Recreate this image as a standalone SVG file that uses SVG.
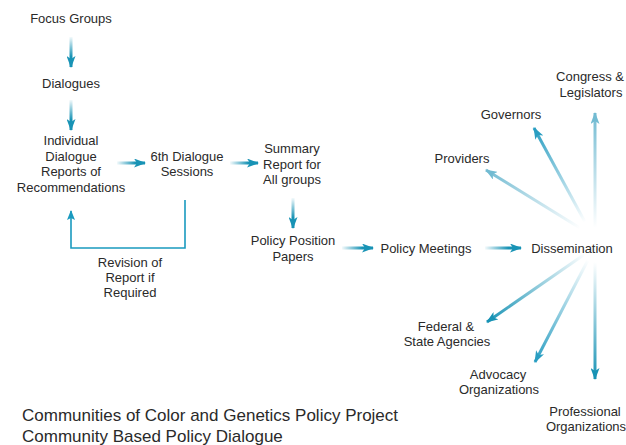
<svg xmlns="http://www.w3.org/2000/svg" width="626" height="445" viewBox="0 0 626 445">
<style>
text{font-family:"Liberation Sans",Arial,sans-serif;font-size:13px;fill:#2a2a2a;text-anchor:middle}
.title{font-size:17px;text-anchor:start}
.a{stroke-width:3;fill:none}
.b{stroke:#1a9abf;stroke-width:1.6;fill:none}
</style>
<defs>
<marker id="hd" markerUnits="userSpaceOnUse" markerWidth="12" markerHeight="9" refX="11" refY="4.5" orient="auto" viewBox="0 0 12 9"><path d="M0,0 L12,4.5 L0,9 L3,4.5 z" fill="#1893b5"/></marker>
<marker id="hm" markerUnits="userSpaceOnUse" markerWidth="12" markerHeight="9" refX="11" refY="4.5" orient="auto" viewBox="0 0 12 9"><path d="M0,0 L12,4.5 L0,9 L3,4.5 z" fill="#2a9ec2"/></marker>
<marker id="hl" markerUnits="userSpaceOnUse" markerWidth="12" markerHeight="9" refX="11" refY="4.5" orient="auto" viewBox="0 0 12 9"><path d="M0,0 L12,4.5 L0,9 L3,4.5 z" fill="#72bbd2"/></marker>
<marker id="hb" markerUnits="userSpaceOnUse" markerWidth="10" markerHeight="8" refX="9" refY="4" orient="auto" viewBox="0 0 10 8"><path d="M0,0 L10,4 L0,8 L2,4 z" fill="#1a9abf"/></marker>
<linearGradient id="g1" gradientUnits="userSpaceOnUse" x1="71" y1="37" x2="71" y2="67"><stop offset="0" stop-color="#1893b5" stop-opacity="0.05"/><stop offset="0.65" stop-color="#1893b5"/></linearGradient>
<linearGradient id="g2" gradientUnits="userSpaceOnUse" x1="71" y1="100" x2="71" y2="130"><stop offset="0" stop-color="#1893b5" stop-opacity="0.05"/><stop offset="0.65" stop-color="#1893b5"/></linearGradient>
<linearGradient id="g3" gradientUnits="userSpaceOnUse" x1="117" y1="163" x2="145" y2="163"><stop offset="0" stop-color="#1893b5" stop-opacity="0.05"/><stop offset="0.65" stop-color="#1893b5"/></linearGradient>
<linearGradient id="g4" gradientUnits="userSpaceOnUse" x1="230" y1="163" x2="258" y2="163"><stop offset="0" stop-color="#1893b5" stop-opacity="0.05"/><stop offset="0.65" stop-color="#1893b5"/></linearGradient>
<linearGradient id="g5" gradientUnits="userSpaceOnUse" x1="293" y1="198" x2="293" y2="228"><stop offset="0" stop-color="#1893b5" stop-opacity="0.05"/><stop offset="0.65" stop-color="#1893b5"/></linearGradient>
<linearGradient id="g6" gradientUnits="userSpaceOnUse" x1="342" y1="248" x2="373" y2="248"><stop offset="0" stop-color="#1893b5" stop-opacity="0.05"/><stop offset="0.65" stop-color="#1893b5"/></linearGradient>
<linearGradient id="g7" gradientUnits="userSpaceOnUse" x1="485" y1="248" x2="521" y2="248"><stop offset="0" stop-color="#1893b5" stop-opacity="0.05"/><stop offset="0.65" stop-color="#1893b5"/></linearGradient>
<linearGradient id="r1" gradientUnits="userSpaceOnUse" x1="595" y1="228" x2="595" y2="113"><stop offset="0" stop-color="#72bbd2" stop-opacity="0"/><stop offset="1" stop-color="#72bbd2"/></linearGradient>
<linearGradient id="r2" gradientUnits="userSpaceOnUse" x1="585" y1="222" x2="534" y2="128"><stop offset="0" stop-color="#2a9ec2" stop-opacity="0"/><stop offset="1" stop-color="#2a9ec2"/></linearGradient>
<linearGradient id="r3" gradientUnits="userSpaceOnUse" x1="580" y1="228" x2="486" y2="170"><stop offset="0" stop-color="#72bbd2" stop-opacity="0"/><stop offset="1" stop-color="#72bbd2"/></linearGradient>
<linearGradient id="r4" gradientUnits="userSpaceOnUse" x1="585" y1="254" x2="487" y2="322"><stop offset="0" stop-color="#1893b5" stop-opacity="0"/><stop offset="1" stop-color="#1893b5"/></linearGradient>
<linearGradient id="r5" gradientUnits="userSpaceOnUse" x1="588" y1="260" x2="535" y2="362"><stop offset="0" stop-color="#2a9ec2" stop-opacity="0"/><stop offset="1" stop-color="#2a9ec2"/></linearGradient>
<linearGradient id="r6" gradientUnits="userSpaceOnUse" x1="595" y1="262" x2="595" y2="379"><stop offset="0" stop-color="#1893b5" stop-opacity="0"/><stop offset="1" stop-color="#1893b5"/></linearGradient>
</defs>
<g id="connectors">
<line class="a" x1="71" y1="37" x2="71" y2="67" stroke="url(#g1)" marker-end="url(#hd)"/>
<line class="a" x1="71" y1="100" x2="71" y2="130" stroke="url(#g2)" marker-end="url(#hd)"/>
<line class="a" x1="117" y1="163" x2="145" y2="163" stroke="url(#g3)" marker-end="url(#hd)"/>
<line class="a" x1="230" y1="163" x2="258" y2="163" stroke="url(#g4)" marker-end="url(#hd)"/>
<line class="a" x1="293" y1="198" x2="293" y2="228" stroke="url(#g5)" marker-end="url(#hd)"/>
<line class="a" x1="342" y1="248" x2="373" y2="248" stroke="url(#g6)" marker-end="url(#hd)"/>
<line class="a" x1="485" y1="248" x2="521" y2="248" stroke="url(#g7)" marker-end="url(#hd)"/>
<path class="b" d="M185,200 V248 H71 V211" marker-end="url(#hb)"/>
<line class="a" x1="595" y1="228" x2="595" y2="113" stroke="url(#r1)" marker-end="url(#hl)"/>
<line class="a" x1="585" y1="222" x2="534" y2="128" stroke="url(#r2)" marker-end="url(#hm)"/>
<line class="a" x1="580" y1="228" x2="486" y2="170" stroke="url(#r3)" marker-end="url(#hl)"/>
<line class="a" x1="585" y1="254" x2="487" y2="322" stroke="url(#r4)" marker-end="url(#hd)"/>
<line class="a" x1="588" y1="260" x2="535" y2="362" stroke="url(#r5)" marker-end="url(#hm)"/>
<line class="a" x1="595" y1="262" x2="595" y2="379" stroke="url(#r6)" marker-end="url(#hd)"/>
</g>
<g id="focus-groups"><text x="71" y="23">Focus Groups</text></g>
<g id="dialogues"><text x="71" y="88">Dialogues</text></g>
<g id="individual-reports"><text x="71" y="145">Individual</text><text x="71" y="160.5">Dialogue</text><text x="71" y="176">Reports of</text><text x="71" y="191.5">Recommendations</text></g>
<g id="sixth-dialogue"><text x="187" y="160.5">6th Dialogue</text><text x="187" y="176">Sessions</text></g>
<g id="summary-report"><text x="292" y="153">Summary</text><text x="292" y="168.5">Report for</text><text x="292" y="184">All groups</text></g>
<g id="policy-position"><text x="293" y="245">Policy Position</text><text x="293" y="260.5">Papers</text></g>
<g id="revision"><text x="130" y="267">Revision of</text><text x="130" y="282">Report if</text><text x="130" y="297">Required</text></g>
<g id="policy-meetings"><text x="426" y="252.5">Policy Meetings</text></g>
<g id="dissemination"><text x="572" y="252.5">Dissemination</text></g>
<g id="congress"><text x="590" y="81">Congress &amp;</text><text x="591" y="96.5">Legislators</text></g>
<g id="governors"><text x="511" y="118.5">Governors</text></g>
<g id="providers"><text x="462" y="162.5">Providers</text></g>
<g id="federal"><text x="446" y="330.5">Federal &amp;</text><text x="447" y="345.5">State Agencies</text></g>
<g id="advocacy"><text x="498" y="378.5">Advocacy</text><text x="499" y="393.5">Organizations</text></g>
<g id="professional"><text x="585" y="415.5">Professional</text><text x="586" y="430.5">Organizations</text></g>
<g id="title"><text class="title" x="22" y="421">Communities of Color and Genetics Policy Project</text><text class="title" x="22" y="442">Community Based Policy Dialogue</text></g>
</svg>
